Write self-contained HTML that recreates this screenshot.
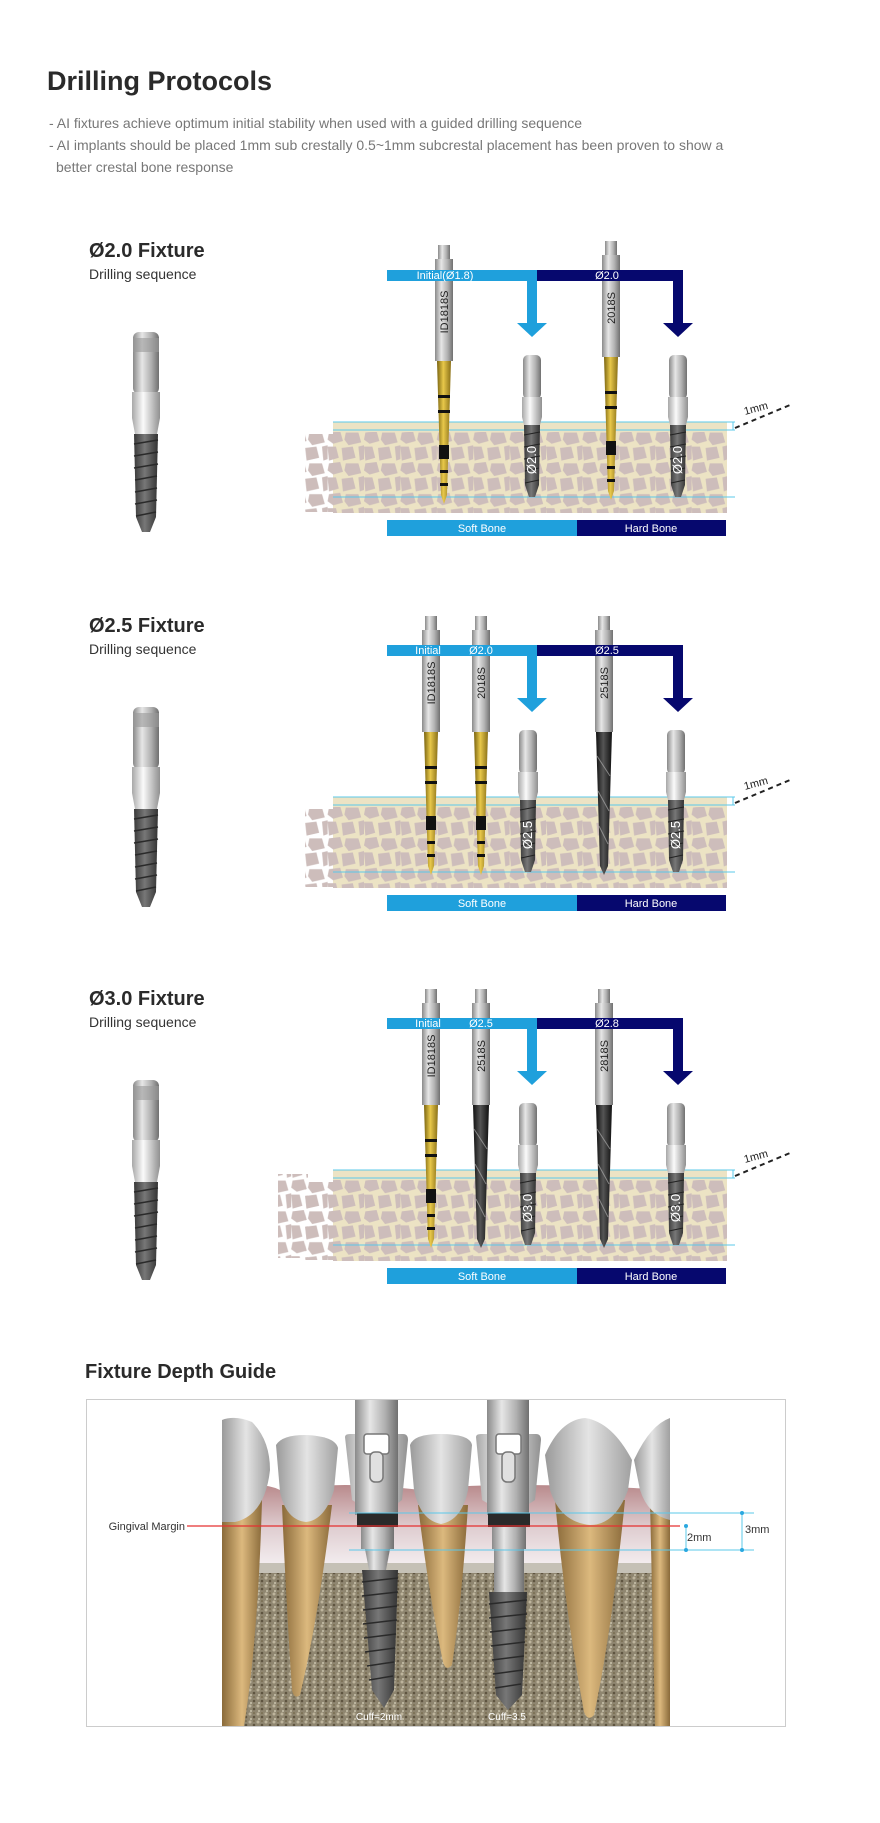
<!DOCTYPE html>
<html><head><meta charset="utf-8"><style>
html,body{margin:0;padding:0;background:#fff;}
svg{display:block;}
text{font-family:"Liberation Sans",sans-serif;}
</style></head><body>
<svg width="880" height="1823" viewBox="0 0 880 1823" xmlns="http://www.w3.org/2000/svg">
<defs>
<linearGradient id="metal" x1="0" x2="1"><stop offset="0" stop-color="#8a8a8a"/><stop offset=".35" stop-color="#e6e6e6"/><stop offset=".7" stop-color="#b0b0b0"/><stop offset="1" stop-color="#707070"/></linearGradient>
<linearGradient id="white" x1="0" x2="1"><stop offset="0" stop-color="#a8a8a8"/><stop offset=".4" stop-color="#fafafa"/><stop offset="1" stop-color="#909090"/></linearGradient>
<linearGradient id="gold" x1="0" x2="1"><stop offset="0" stop-color="#7a6410"/><stop offset=".45" stop-color="#e8c84a"/><stop offset="1" stop-color="#8a7018"/></linearGradient>
<linearGradient id="dark" x1="0" x2="1"><stop offset="0" stop-color="#3a3a3a"/><stop offset=".45" stop-color="#777"/><stop offset="1" stop-color="#333"/></linearGradient>
<linearGradient id="blk" x1="0" x2="1"><stop offset="0" stop-color="#111"/><stop offset=".45" stop-color="#555"/><stop offset="1" stop-color="#111"/></linearGradient>
<pattern id="cellsonly" width="26" height="22" patternUnits="userSpaceOnUse" patternTransform="scale(1.4)">
<g fill="#cdbdbb">
<polygon points="1,1 9,0 11,7 4,9 0,6"/>
<polygon points="13,1 22,1 24,8 15,10 12,6"/>
<polygon points="0,11 6,11 8,19 1,21"/>
<polygon points="10,12 18,11 20,19 11,21"/>
<polygon points="22,11 26,10 26,20 23,21"/>
</g>
</pattern>
<pattern id="cells" width="26" height="22" patternUnits="userSpaceOnUse" patternTransform="scale(1.4)">
<rect width="26" height="22" fill="#ece3c4"/>
<g fill="#cdbdbb">
<polygon points="1,1 9,0 11,7 4,9 0,6"/>
<polygon points="13,1 22,1 24,8 15,10 12,6"/>
<polygon points="0,11 6,11 8,19 1,21"/>
<polygon points="10,12 18,11 20,19 11,21"/>
<polygon points="22,11 26,10 26,20 23,21"/>
</g>
</pattern>
<g id="imp">
<rect x="-13" y="0" width="26" height="62" rx="6" fill="url(#metal)"/>
<rect x="-13" y="6" width="26" height="14" fill="#9a9a9a" opacity=".6"/>
<polygon points="-14,60 14,60 14,86 11,102 -11,102 -14,86" fill="url(#white)"/>
<polygon points="-12,102 12,102 10,185 4,200 -4,200 -10,185" fill="url(#dark)"/>
<g stroke="#2a2a2a" stroke-width="1.5"><line x1="-12" y1="112" x2="12" y2="108"/><line x1="-12" y1="124" x2="12" y2="120"/><line x1="-12" y1="136" x2="12" y2="132"/><line x1="-11" y1="148" x2="11" y2="144"/><line x1="-11" y1="160" x2="11" y2="156"/><line x1="-11" y1="172" x2="11" y2="168"/><line x1="-10" y1="184" x2="10" y2="180"/></g>
</g>
<g id="fix">
<rect x="-9" y="0" width="18" height="44" rx="5" fill="url(#metal)"/>
<polygon points="-10,42 10,42 10,62 8,70 -8,70 -10,62" fill="url(#white)"/>
<polygon points="-8,70 8,70 7,130 3,142 -3,142 -7,130" fill="url(#dark)"/>
<g stroke="#222" stroke-width="1"><line x1="-8" y1="80" x2="8" y2="77"/><line x1="-8" y1="92" x2="8" y2="89"/><line x1="-8" y1="104" x2="8" y2="101"/><line x1="-7" y1="116" x2="7" y2="113"/><line x1="-7" y1="128" x2="7" y2="125"/></g>
</g>
<g id="shank">
<rect x="-6" y="0" width="12" height="14" fill="url(#metal)"/>
<rect x="-9" y="14" width="18" height="102" fill="url(#metal)"/>
</g>
<g id="bits"><polygon points="-7,116 7,116 3,250 0,259 -3,250" fill="url(#gold)"/></g>
<g id="bitb"><polygon points="-8,116 8,116 4,250 0,259 -4,250" fill="url(#blk)"/>
<g stroke="#bbb" stroke-width="1" opacity=".6"><line x1="-7" y1="140" x2="6" y2="160"/><line x1="-6" y1="175" x2="5" y2="195"/><line x1="-5" y1="210" x2="4" y2="228"/></g></g>
<g id="bands"><g fill="#111"><rect x="-6" y="150" width="12" height="3"/><rect x="-6" y="165" width="12" height="3"/><rect x="-5" y="200" width="10" height="14"/><rect x="-4" y="225" width="8" height="3"/><rect x="-4" y="238" width="8" height="3"/></g></g>
<g id="bone">
<rect x="333" y="422" width="394" height="91" fill="url(#cells)"/>
<rect x="333" y="422" width="394" height="10" fill="#ece3c4"/>
<rect x="305" y="434" width="28" height="78" fill="url(#cellsonly)"/>
<g stroke="#5bc8ea" stroke-width="1"><line x1="333" y1="422" x2="735" y2="422"/><line x1="333" y1="430" x2="735" y2="430"/><line x1="333" y1="497" x2="735" y2="497"/></g>
<path d="M729,422 h4 v8 h-4" fill="none" stroke="#5bc8ea"/>
<line x1="735" y1="428" x2="790" y2="405" stroke="#222" stroke-width="2" stroke-dasharray="5,4"/>
<text x="745" y="415" font-size="11" fill="#222" transform="rotate(-15 745 415)">1mm</text>
<rect x="387" y="520" width="190" height="16" fill="#1fa0dc"/>
<rect x="577" y="520" width="149" height="16" fill="#06086e"/>
<text x="482" y="532" font-size="11" fill="#fff" text-anchor="middle">Soft Bone</text>
<text x="651" y="532" font-size="11" fill="#fff" text-anchor="middle">Hard Bone</text>
</g>
<g id="arrows">
<rect x="387" y="270" width="150" height="11" fill="#1fa0dc"/>
<rect x="527" y="270" width="10" height="53" fill="#1fa0dc"/>
<polygon points="517,323 547,323 532,337" fill="#1fa0dc"/>
<rect x="537" y="270" width="146" height="11" fill="#06086e"/>
<rect x="673" y="270" width="10" height="53" fill="#06086e"/>
<polygon points="663,323 693,323 678,337" fill="#06086e"/>
</g>
</defs>

<text x="47" y="90" font-size="27" font-weight="bold" fill="#2a2a2a">Drilling Protocols</text>
<g font-size="14" fill="#777">
<text x="49" y="128">- AI fixtures achieve optimum initial stability when used with a guided drilling sequence</text>
<text x="49" y="150">- AI implants should be placed 1mm sub crestally 0.5~1mm subcrestal placement has been proven to show a</text>
<text x="56" y="172">better crestal bone response</text>
</g>

<!-- Section 1 -->
<g>
<text x="89" y="257" font-size="20" font-weight="bold" fill="#2a2a2a">Ø2.0 Fixture</text>
<text x="89" y="279" font-size="14" fill="#333">Drilling sequence</text>
<use href="#imp" transform="translate(146,332)"/>
<use href="#bone"/>
<g transform="translate(444,245)"><use href="#bits"/><use href="#bands"/><use href="#shank"/></g>
<g transform="translate(611,241)"><use href="#bits"/><use href="#bands"/><use href="#shank"/></g>
<use href="#arrows"/>
<text transform="translate(448,312) rotate(-90)" font-size="11" fill="#222" text-anchor="middle">ID1818S</text>
<text transform="translate(615,308) rotate(-90)" font-size="11" fill="#222" text-anchor="middle">2018S</text>
<g transform="translate(532,355)"><use href="#fix"/><text transform="translate(4,105) rotate(-90)" font-size="13" fill="#fff" text-anchor="middle">Ø2.0</text></g>
<g transform="translate(678,355)"><use href="#fix"/><text transform="translate(4,105) rotate(-90)" font-size="13" fill="#fff" text-anchor="middle">Ø2.0</text></g>
<text x="445" y="279" font-size="11" fill="#fff" text-anchor="middle">Initial(Ø1.8)</text>
<text x="607" y="279" font-size="11" fill="#fff" text-anchor="middle">Ø2.0</text>
</g>

<!-- Section 2 -->
<g transform="translate(0,375)">
<text x="89" y="257" font-size="20" font-weight="bold" fill="#2a2a2a">Ø2.5 Fixture</text>
<text x="89" y="279" font-size="14" fill="#333">Drilling sequence</text>
<use href="#imp" transform="translate(146,332)"/>
<use href="#bone"/>
<g transform="translate(431,241)"><use href="#bits"/><use href="#bands"/><use href="#shank"/></g>
<g transform="translate(481,241)"><use href="#bits"/><use href="#bands"/><use href="#shank"/></g>
<g transform="translate(604,241)"><use href="#bitb"/><use href="#shank"/></g>
<use href="#arrows"/>
<text transform="translate(435,308) rotate(-90)" font-size="11" fill="#222" text-anchor="middle">ID1818S</text>
<text transform="translate(485,308) rotate(-90)" font-size="11" fill="#222" text-anchor="middle">2018S</text>
<text transform="translate(608,308) rotate(-90)" font-size="11" fill="#222" text-anchor="middle">2518S</text>
<g transform="translate(528,355)"><use href="#fix"/><text transform="translate(4,105) rotate(-90)" font-size="13" fill="#fff" text-anchor="middle">Ø2.5</text></g>
<g transform="translate(676,355)"><use href="#fix"/><text transform="translate(4,105) rotate(-90)" font-size="13" fill="#fff" text-anchor="middle">Ø2.5</text></g>
<text x="428" y="279" font-size="11" fill="#fff" text-anchor="middle">Initial</text>
<text x="481" y="279" font-size="11" fill="#fff" text-anchor="middle">Ø2.0</text>
<text x="607" y="279" font-size="11" fill="#fff" text-anchor="middle">Ø2.5</text>
</g>

<!-- Section 3 -->
<g transform="translate(0,748)">
<text x="89" y="257" font-size="20" font-weight="bold" fill="#2a2a2a">Ø3.0 Fixture</text>
<text x="89" y="279" font-size="14" fill="#333">Drilling sequence</text>
<use href="#imp" transform="translate(146,332)"/>
<rect x="278" y="426" width="30" height="84" fill="url(#cellsonly)"/>
<use href="#bone"/>
<g transform="translate(431,241)"><use href="#bits"/><use href="#bands"/><use href="#shank"/></g>
<g transform="translate(481,241)"><use href="#bitb"/><use href="#shank"/></g>
<g transform="translate(604,241)"><use href="#bitb"/><use href="#shank"/></g>
<use href="#arrows"/>
<text transform="translate(435,308) rotate(-90)" font-size="11" fill="#222" text-anchor="middle">ID1818S</text>
<text transform="translate(485,308) rotate(-90)" font-size="11" fill="#222" text-anchor="middle">2518S</text>
<text transform="translate(608,308) rotate(-90)" font-size="11" fill="#222" text-anchor="middle">2818S</text>
<g transform="translate(528,355)"><use href="#fix"/><text transform="translate(4,105) rotate(-90)" font-size="13" fill="#fff" text-anchor="middle">Ø3.0</text></g>
<g transform="translate(676,355)"><use href="#fix"/><text transform="translate(4,105) rotate(-90)" font-size="13" fill="#fff" text-anchor="middle">Ø3.0</text></g>
<text x="428" y="279" font-size="11" fill="#fff" text-anchor="middle">Initial</text>
<text x="481" y="279" font-size="11" fill="#fff" text-anchor="middle">Ø2.5</text>
<text x="607" y="279" font-size="11" fill="#fff" text-anchor="middle">Ø2.8</text>
</g>

<!-- Fixture depth guide -->
<text x="85" y="1378" font-size="20" font-weight="bold" fill="#2a2a2a">Fixture Depth Guide</text>
<rect x="86.5" y="1399.5" width="699" height="327" fill="#fff" stroke="#ccc"/>
<defs>
<pattern id="bonetex" width="8" height="8" patternUnits="userSpaceOnUse"><rect width="8" height="8" fill="#8f8670"/><circle cx="2" cy="2" r="1.5" fill="#bdb49c"/><circle cx="6" cy="5" r="1.3" fill="#5e5440"/><circle cx="3" cy="7" r="1" fill="#c9c2ad"/><circle cx="6" cy="1" r=".8" fill="#6a5e3e"/></pattern>
<linearGradient id="root" x1="0" x2="1"><stop offset="0" stop-color="#8a6a3a"/><stop offset=".5" stop-color="#dcb97e"/><stop offset="1" stop-color="#8a6a3a"/></linearGradient>
<linearGradient id="tooth" x1="0" x2="1"><stop offset="0" stop-color="#9a9a9a"/><stop offset=".5" stop-color="#e4e4e4"/><stop offset="1" stop-color="#a0a0a0"/></linearGradient>
<linearGradient id="gum" x1="0" y1="0" x2="0" y2="1"><stop offset="0" stop-color="#b98a8c"/><stop offset=".5" stop-color="#dfcdd0"/><stop offset="1" stop-color="#f6f2f4"/></linearGradient>
<clipPath id="clipimg"><rect x="222" y="1400" width="448" height="326"/></clipPath>
</defs>
<g clip-path="url(#clipimg)">
<rect x="222" y="1400" width="448" height="326" fill="#fff"/>
<path d="M222,1490 Q260,1480 280,1490 Q340,1480 420,1490 Q500,1480 670,1490 L670,1570 L222,1570 Z" fill="url(#gum)"/>
<rect x="222" y="1565" width="448" height="161" fill="url(#bonetex)"/>
<rect x="222" y="1563" width="448" height="10" fill="#c5c1b6"/>
<path d="M222,1500 L262,1500 Q258,1640 244,1726 L222,1726 Z" fill="url(#root)"/>
<path d="M282,1505 L332,1505 Q318,1620 300,1695 Q294,1700 292,1690 Q286,1600 282,1505 Z" fill="url(#root)"/>
<path d="M418,1505 L468,1505 Q462,1600 452,1665 Q446,1672 443,1662 Q428,1590 418,1505 Z" fill="url(#root)"/>
<path d="M555,1500 L625,1500 Q612,1630 594,1715 Q588,1722 584,1712 Q565,1610 555,1500 Z" fill="url(#root)"/>
<path d="M650,1500 L670,1500 L670,1726 L655,1726 Z" fill="url(#root)"/>
<path d="M222,1420 Q235,1415 252,1422 Q270,1440 270,1470 Q265,1515 235,1522 L222,1522 Z" fill="url(#tooth)"/>
<path d="M276,1445 Q282,1435 305,1435 Q335,1436 338,1448 L334,1490 Q325,1520 306,1522 Q286,1520 280,1492 Z" fill="url(#tooth)"/>
<path d="M410,1445 Q414,1434 440,1434 Q470,1434 472,1445 L468,1490 Q462,1520 441,1524 Q420,1520 414,1490 Z" fill="url(#tooth)"/>
<path d="M545,1455 Q560,1420 585,1418 Q612,1422 632,1460 L628,1490 Q615,1525 590,1525 Q560,1522 550,1490 Z" fill="url(#tooth)"/>
<path d="M634,1460 Q650,1425 670,1418 L670,1520 Q648,1515 640,1490 Z" fill="url(#tooth)"/>
<path d="M345,1437 Q345,1434 350,1434 L403,1434 Q408,1434 408,1440 L402,1500 Q380,1518 352,1500 Z" fill="url(#white)"/>
<rect x="355" y="1400" width="43" height="115" fill="url(#metal)"/>
<rect x="364" y="1434" width="25" height="20" rx="3" fill="#fff" stroke="#777" stroke-width="1.5"/>
<rect x="370" y="1452" width="13" height="30" rx="5" fill="#e0e0e0" stroke="#777" stroke-width="1.5"/>
<rect x="357" y="1513" width="41" height="14" fill="#2a2a2a"/>
<rect x="361" y="1527" width="33" height="22" fill="url(#metal)"/>
<polygon points="365,1549 390,1549 386,1570 369,1570" fill="url(#metal)"/>
<polygon points="362,1570 398,1570 394,1690 384,1708 372,1690" fill="url(#dark)"/>
<g stroke="#2a2a2a" stroke-width="1.5"><line x1="362" y1="1582" x2="398" y2="1578"/><line x1="362" y1="1596" x2="398" y2="1592"/><line x1="363" y1="1610" x2="397" y2="1606"/><line x1="363" y1="1624" x2="397" y2="1620"/><line x1="364" y1="1638" x2="396" y2="1634"/><line x1="365" y1="1652" x2="395" y2="1648"/><line x1="367" y1="1666" x2="394" y2="1662"/><line x1="369" y1="1680" x2="393" y2="1676"/></g>
<path d="M476,1437 Q476,1434 481,1434 L536,1434 Q541,1434 541,1440 L535,1500 Q510,1518 482,1500 Z" fill="url(#white)"/>
<rect x="487" y="1400" width="42" height="115" fill="url(#metal)"/>
<rect x="496" y="1434" width="25" height="20" rx="3" fill="#fff" stroke="#777" stroke-width="1.5"/>
<rect x="502" y="1452" width="13" height="30" rx="5" fill="#e0e0e0" stroke="#777" stroke-width="1.5"/>
<rect x="488" y="1513" width="42" height="14" fill="#2a2a2a"/>
<rect x="492" y="1527" width="34" height="22" fill="url(#metal)"/>
<rect x="494" y="1549" width="30" height="43" fill="url(#metal)"/>
<polygon points="489,1592 527,1592 522,1695 508,1710 496,1695" fill="url(#dark)"/>
<g stroke="#2a2a2a" stroke-width="1.5"><line x1="489" y1="1604" x2="527" y2="1600"/><line x1="489" y1="1618" x2="527" y2="1614"/><line x1="490" y1="1632" x2="526" y2="1628"/><line x1="491" y1="1646" x2="525" y2="1642"/><line x1="492" y1="1660" x2="524" y2="1656"/><line x1="493" y1="1674" x2="523" y2="1670"/><line x1="495" y1="1688" x2="521" y2="1684"/></g>
<text x="379" y="1720" font-size="10" fill="#fff" text-anchor="middle">Cuff=2mm</text>
<text x="507" y="1720" font-size="10" fill="#fff" text-anchor="middle">Cuff=3.5</text>
</g>
<line x1="349" y1="1513" x2="754" y2="1513" stroke="#5bc8ea"/>
<line x1="349" y1="1550" x2="754" y2="1550" stroke="#5bc8ea"/>
<line x1="187" y1="1526" x2="680" y2="1526" stroke="#e53030" stroke-width="1.2"/>
<line x1="686" y1="1526" x2="686" y2="1550" stroke="#5bc8ea"/>
<circle cx="686" cy="1526" r="2" fill="#2aa8e0"/><circle cx="686" cy="1550" r="2" fill="#2aa8e0"/>
<line x1="742" y1="1513" x2="742" y2="1550" stroke="#5bc8ea"/>
<circle cx="742" cy="1513" r="2" fill="#2aa8e0"/><circle cx="742" cy="1550" r="2" fill="#2aa8e0"/>
<text x="687" y="1541" font-size="11" fill="#333">2mm</text>
<text x="745" y="1533" font-size="11" fill="#333">3mm</text>
<text x="185" y="1530" font-size="11" fill="#333" text-anchor="end">Gingival Margin</text>
</svg>
</body></html>
